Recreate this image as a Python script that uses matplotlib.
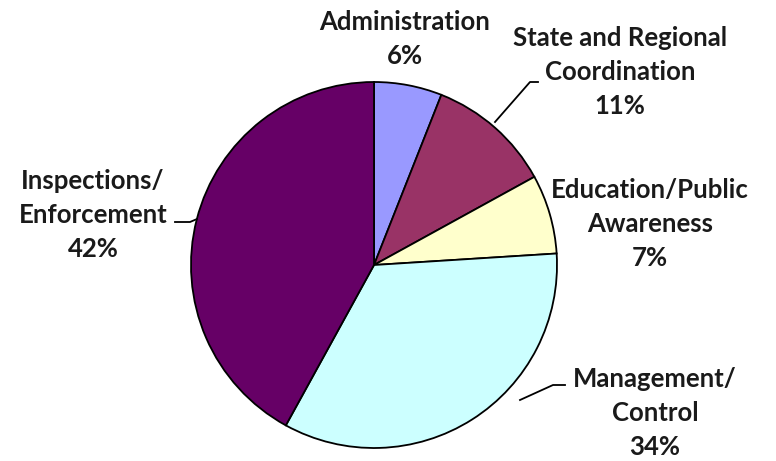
import matplotlib.pyplot as plt

# Share of budget by program area
categories = ['Administration', 'State and Regional\nCoordination', 'Education/Public\nAwareness',
              'Management/\nControl', 'Inspections/\nEnforcement']
shares = [6, 11, 7, 34, 42]
colors = ['#9999FF', '#993366', '#FFFFCC', '#CCFFFF', '#660066']

W, H = 776, 461
fig = plt.figure(figsize=(W / 100, H / 100), dpi=100)
ax = fig.add_axes([0, 0, 1, 1])

ax.pie(shares, colors=colors, startangle=90, counterclock=False,
       center=(374, H - 265), radius=183, frame=True,
       wedgeprops=dict(edgecolor='black', linewidth=1.3))
ax.set_xlim(0, W)
ax.set_ylim(0, H)
ax.set_aspect('equal')
ax.axis('off')

# label positions (pixel coords from top-left)
label_pos = [(405, 39), (620, 72), (650, 224), (655, 413), (93, 215)]
for name, val, (x, y) in zip(categories, shares, label_pos):
    ax.text(x, H - y, f'{name}\n{val}%', ha='center', va='center',
            fontsize=18.5, fontweight='bold', family='Lato', color='#1a1a1a',
            linespacing=1.5)

# leader lines
leaders = [
    [(495, 122), (530, 82), (538, 82)],
    [(520, 400), (553, 385), (565, 385)],
    [(197, 219), (190, 222), (175, 222)],
]
for pts in leaders:
    xs = [p[0] for p in pts]
    ys = [H - p[1] for p in pts]
    ax.plot(xs, ys, color='black', linewidth=1.3)

fig.savefig('out.png', dpi=100)
